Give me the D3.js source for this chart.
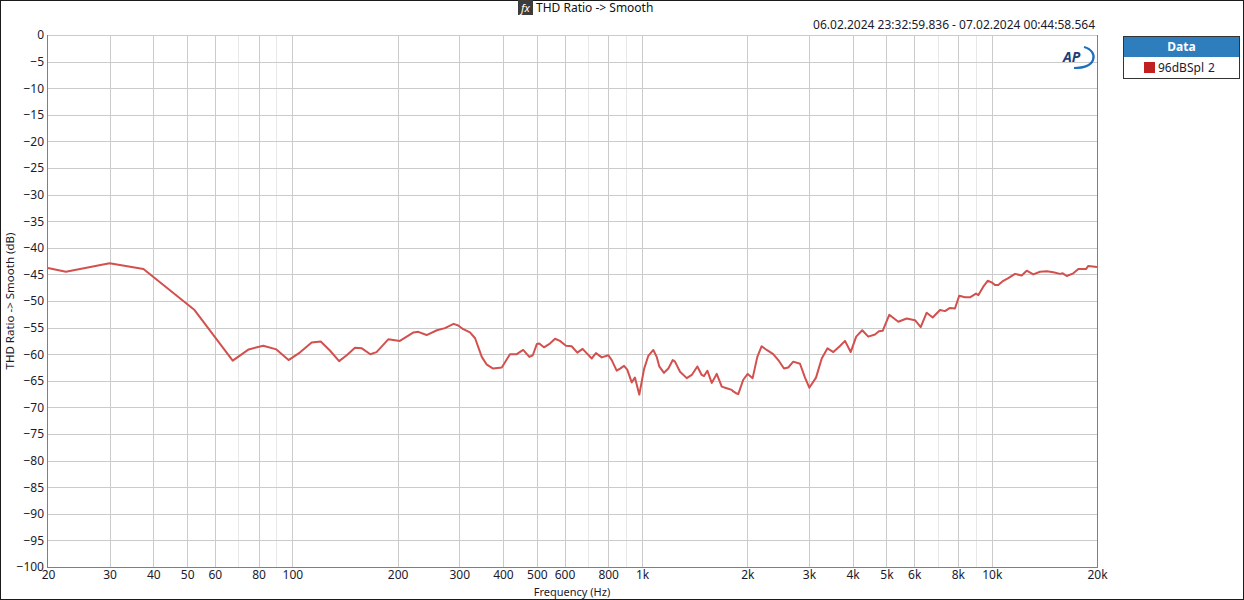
<!DOCTYPE html>
<html>
<head>
<meta charset="utf-8">
<script src="https://cdn.jsdelivr.net/npm/d3@7"></script>
<style>
  html, body { margin: 0; padding: 0; background: #fff; }
  svg { display: block; }
  text { font-family: "Noto Sans", "Open Sans", sans-serif; }
</style>
</head>
<body>
<svg id="chart" width="1244" height="600"></svg>
<script>
// ---- data ----
const freqHz = [20, 22.5, 30, 37.5, 52.5, 67.5, 75, 82.5, 90, 97.5, 105, 113.5, 120.5, 128, 136, 143, 151, 158, 167, 174, 188, 203, 222, 229, 242, 259, 273, 289, 298, 308, 322, 333, 348, 359, 375, 397, 419, 438, 457, 476, 487, 500, 508, 524, 545, 564, 582, 606, 629, 653, 676, 694, 718, 738, 767, 801, 819, 846, 865, 888, 907, 934, 954, 982, 1013, 1042, 1077, 1101, 1120, 1155, 1189, 1224, 1242, 1284, 1342, 1387, 1439, 1481, 1504, 1537, 1582, 1635, 1690, 1746, 1805, 1823, 1865, 1884, 1947, 2005, 2071, 2136, 2198, 2272, 2372, 2452, 2546, 2618, 2706, 2829, 2924, 3008, 3144, 3264, 3391, 3524, 3675, 3805, 3950, 4096, 4262, 4435, 4636, 4758, 4876, 5093, 5404, 5712, 6033, 6264, 6516, 6778, 7112, 7350, 7595, 7849, 8075, 8384, 8665, 9016, 9152, 9458, 9736, 9996, 10216, 10440, 10790, 11152, 11656, 12180, 12588, 13148, 13742, 14362, 14998, 15680, 15960, 16384, 17112, 17686, 18604, 18888, 20000];
const thdDb = [-43.8, -44.5, -42.9, -44.0, -51.7, -61.2, -59.1, -58.4, -59.1, -61.1, -59.7, -57.8, -57.6, -59.3, -61.3, -60.2, -58.8, -58.9, -60.0, -59.6, -57.2, -57.5, -55.9, -55.8, -56.4, -55.5, -55.1, -54.3, -54.6, -55.3, -55.9, -57.0, -60.5, -61.9, -62.7, -62.5, -60.0, -60.0, -59.2, -60.5, -60.2, -58.1, -58.0, -58.7, -58.0, -57.1, -57.5, -58.4, -58.5, -59.7, -59.0, -59.8, -60.8, -59.8, -60.6, -60.2, -61.1, -63.1, -62.7, -62.2, -62.9, -65.3, -64.4, -67.6, -62.8, -60.3, -59.2, -60.5, -62.3, -63.5, -62.7, -61.1, -61.4, -63.3, -64.5, -63.9, -62.3, -63.9, -64.1, -63.1, -65.4, -63.7, -66.1, -66.4, -66.7, -67.0, -67.4, -67.5, -64.8, -63.7, -64.5, -60.5, -58.5, -59.2, -60.0, -61.1, -62.7, -62.5, -61.4, -61.8, -64.4, -66.3, -64.4, -60.8, -58.9, -59.6, -58.5, -57.5, -59.6, -56.7, -55.5, -56.7, -56.3, -55.7, -55.6, -52.6, -53.9, -53.3, -53.6, -54.9, -52.2, -53.1, -51.7, -51.9, -51.3, -51.4, -49.0, -49.3, -49.3, -48.6, -48.9, -47.3, -46.2, -46.5, -47.0, -47.0, -46.2, -45.7, -44.9, -45.2, -44.3, -45.0, -44.5, -44.4, -44.6, -44.9, -44.8, -45.3, -44.8, -44.0, -44.0, -43.4, -43.6];
const xTickValues = [20, 30, 40, 50, 60, 80, 100, 200, 300, 400, 500, 600, 800, 1000, 2000, 3000, 4000, 5000, 6000, 8000, 10000, 20000];
const xTickLabels = ["20", "30", "40", "50", "60", "80", "100", "200", "300", "400", "500", "600", "800", "1k", "2k", "3k", "4k", "5k", "6k", "8k", "10k", "20k"];
const xMinorGrid = [70, 90, 700, 900, 7000, 9000];
const yTickValues = d3.range(0, -101, -5);
const seriesName = "96dBSpl";
const seriesSuffix = "2";
const titleText = "THD Ratio -> Smooth";
const timeText = "06.02.2024 23:32:59.836 - 07.02.2024 00:44:58.564";

// ---- layout ----
const W = 1244, H = 600;
const plot = { left: 48, right: 1097, top: 35, bottom: 567 };
const svg = d3.select("#chart");

const x = d3.scaleLog().domain([20, 20000]).range([plot.left, plot.right]);
const y = d3.scaleLinear().domain([-100, 0]).range([plot.bottom, plot.top]);

// outer border
svg.append("rect").attr("x", 0.5).attr("y", 0.5).attr("width", W - 1).attr("height", H - 1)
  .attr("fill", "#fff").attr("stroke", "#1a1a1a").attr("stroke-width", 1);

// grid
const g = svg.append("g");
g.selectAll(".hmin").data(xMinorGrid).join("line")
  .attr("x1", d => Math.round(x(d)) + 0.5).attr("x2", d => Math.round(x(d)) + 0.5)
  .attr("y1", plot.top).attr("y2", plot.bottom)
  .attr("stroke", "#e8e8e8");
g.selectAll(".vmaj").data(xTickValues.slice(1, -1)).join("line")
  .attr("x1", d => Math.round(x(d)) + 0.5).attr("x2", d => Math.round(x(d)) + 0.5)
  .attr("y1", plot.top).attr("y2", plot.bottom)
  .attr("stroke", "#cbcbcb");
g.selectAll(".hmaj").data(yTickValues.slice(1, -1)).join("line")
  .attr("x1", plot.left).attr("x2", plot.right)
  .attr("y1", d => Math.round(y(d)) + 0.5).attr("y2", d => Math.round(y(d)) + 0.5)
  .attr("stroke", "#cbcbcb");

// frame
svg.append("line").attr("x1", plot.left).attr("x2", plot.right).attr("y1", plot.top + 0.5).attr("y2", plot.top + 0.5).attr("stroke", "#cbcbcb");
svg.append("line").attr("x1", plot.right + 0.5).attr("x2", plot.right + 0.5).attr("y1", plot.top).attr("y2", plot.bottom).attr("stroke", "#808080");
svg.append("line").attr("x1", plot.left - 0.5).attr("x2", plot.left - 0.5).attr("y1", plot.top).attr("y2", plot.bottom + 1).attr("stroke", "#808080");
svg.append("line").attr("x1", plot.left - 1).attr("x2", plot.right + 1).attr("y1", plot.bottom + 0.5).attr("y2", plot.bottom + 0.5).attr("stroke", "#808080");

// axes labels via d3 axes
const xAxis = d3.axisBottom(x).tickValues(xTickValues)
  .tickFormat((d, i) => xTickLabels[i]).tickSize(0).tickPadding(3);
const xg = svg.append("g").attr("transform", `translate(0,${plot.bottom})`).call(xAxis);
xg.select(".domain").remove();
xg.selectAll("text").attr("font-size", 12).attr("fill", "#1a1a2e").attr("font-family", "Noto Sans");

const yAxis = d3.axisLeft(y).tickValues(yTickValues).tickSize(0).tickPadding(4)
  .tickFormat(d => d3.format("d")(d));
const yg = svg.append("g").attr("transform", `translate(${plot.left},0)`).call(yAxis);
yg.select(".domain").remove();
yg.selectAll("text").attr("font-size", 12).attr("fill", "#1a1a2e").attr("font-family", "Noto Sans");

// axis titles
svg.append("text").attr("x", 572).attr("y", 596)
  .attr("text-anchor", "middle").attr("font-size", 11).attr("fill", "#1a1a2e").text("Frequency (Hz)");
svg.append("text").attr("transform", `translate(14,${(plot.top + plot.bottom) / 2}) rotate(-90)`)
  .attr("text-anchor", "middle").attr("font-size", 11.5).attr("fill", "#1a1a2e").text("THD Ratio -> Smooth (dB)");

// title
svg.append("rect").attr("x", 518).attr("y", 0).attr("width", 15).attr("height", 15).attr("fill", "#3c3c3c");
svg.append("text").attr("x", 525.5).attr("y", 12).attr("text-anchor", "middle").attr("font-size", 11)
  .attr("font-style", "italic").attr("fill", "#fff").attr("font-family", "DejaVu Serif").text("fx");
svg.append("text").attr("x", 536).attr("y", 12).attr("font-size", 12).attr("fill", "#111").text(titleText);

// timestamp
svg.append("text").attr("x", 1095).attr("y", 29).attr("text-anchor", "end").attr("font-size", 12)
  .attr("fill", "#1a1a2e").text(timeText);

// AP logo
const logo = svg.append("g").attr("transform", "translate(1062,47)");
logo.append("path").attr("d", "M22,0 C30,2 33,8 31,13 C29,18 22,21 12,21")
  .attr("fill", "none").attr("stroke", "#1f6fbf").attr("stroke-width", 2.2);
logo.append("text").attr("x", 1).attr("y", 15).attr("font-size", 14).attr("font-weight", "bold")
  .attr("font-style", "italic").attr("fill", "#1c3f7a").attr("font-family", "Liberation Sans").text("AP");

// data line
const line = d3.line().x((d, i) => x(freqHz[i])).y(d => y(d)).curve(d3.curveLinear);
svg.append("path").datum(thdDb).attr("d", line)
  .attr("fill", "none").attr("stroke", "#d2504e").attr("stroke-width", 2).attr("stroke-linejoin", "round");

// legend
const lg = svg.append("g");
lg.append("rect").attr("x", 1123.5).attr("y", 36.5).attr("width", 116).attr("height", 42)
  .attr("fill", "#fff").attr("stroke", "#333");
lg.append("rect").attr("x", 1124).attr("y", 37).attr("width", 115).attr("height", 20).attr("fill", "#2e7dbd");
lg.append("text").attr("x", 1181.5).attr("y", 51).attr("text-anchor", "middle").attr("font-size", 12)
  .attr("font-weight", "bold").attr("fill", "#fff").text("Data");
lg.append("rect").attr("x", 1144).attr("y", 62).attr("width", 11).attr("height", 11).attr("fill", "#c0201f");
const lt = lg.append("text").attr("x", 1158).attr("y", 72).attr("font-size", 12).attr("fill", "#1a1a2e");
lt.append("tspan").text(seriesName);
lt.append("tspan").attr("dx", 4).attr("fill", "#3a0a6a").text(seriesSuffix);
</script>
</body>
</html>
